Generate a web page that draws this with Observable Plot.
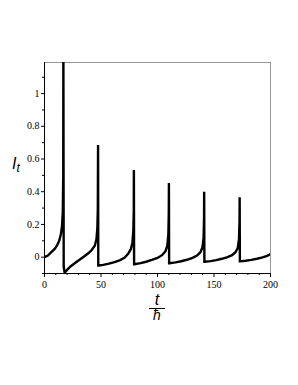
<!DOCTYPE html>
<html>
<head>
<meta charset="utf-8">
<script src="https://cdn.jsdelivr.net/npm/d3@7"></script>
<script src="https://cdn.jsdelivr.net/npm/@observablehq/plot@0.6"></script>
<style>
  html, body { margin: 0; padding: 0; background: #fff; }
  #chart { width: 298px; height: 385px; }
  #chart svg g[aria-label*="tick label"] text, #chart svg g[aria-label*="tick label"] { font-family: "Liberation Serif", "Times New Roman", serif !important; }
</style>
</head>
<body>
<div id="chart"></div>
<script>
// time values (t / ħ)
const tValues = [
  0, 3, 6, 9, 11, 13, 14.5, 15.5, 16.2, 16.6, 16.7,
  17.0, 17.8, 20, 23, 27, 31, 35, 39, 42, 44.5, 46, 46.8, 47.2, 47.4,
  47.6, 48, 52, 57, 62, 67, 71, 74, 76.5, 77.8, 78.6, 79.0, 79.1,
  79.3, 79.5, 85, 90, 95, 100, 104, 107, 108.7, 109.6, 110.0, 110.1,
  110.3, 110.5, 116, 121, 126, 131, 135, 138, 139.8, 140.8, 141.2, 141.3,
  141.5, 141.7, 147, 152, 157, 162, 166, 169, 171, 172.1, 172.6, 172.7,
  172.9, 173.1, 178, 183, 188, 193, 197, 200
];
// current values I_t
const iValues = [
  0, 0.01, 0.03, 0.05, 0.07, 0.10, 0.14, 0.19, 0.28, 0.5, 1.3,
  -0.06, -0.095, -0.078, -0.057, -0.036, -0.016, 0.004, 0.025, 0.045, 0.07, 0.11, 0.18, 0.3, 0.685,
  -0.051, -0.051, -0.047, -0.04, -0.03, -0.018, -0.002, 0.02, 0.05, 0.09, 0.16, 0.28, 0.533,
  -0.043, -0.043, -0.037, -0.028, -0.017, -0.005, 0.012, 0.035, 0.07, 0.14, 0.27, 0.454,
  -0.037, -0.037, -0.032, -0.025, -0.016, -0.004, 0.01, 0.03, 0.06, 0.12, 0.24, 0.40,
  -0.028, -0.028, -0.024, -0.018, -0.01, 0.0, 0.012, 0.03, 0.055, 0.11, 0.22, 0.366,
  -0.026, -0.026, -0.022, -0.017, -0.01, -0.002, 0.008, 0.018
];
const xTicks = [0, 50, 100, 150, 200];
const xMinorTicks = [10, 20, 30, 40, 60, 70, 80, 90, 110, 120, 130, 140, 160, 170, 180, 190];
const yTicks = [0, 0.2, 0.4, 0.6, 0.8, 1];
const yTickLabels = ["0", "0.2", "0.4", "0.6", "0.8", "1"];
const yMinorTicks = [-0.1, 0.1, 0.3, 0.5, 0.7, 0.9, 1.1];

const data = tValues.map((t, i) => ({t, I: iValues[i]}));

const serif = "'Liberation Serif', 'Times New Roman', serif";

const plot = Plot.plot({
  width: 298,
  height: 385,
  marginLeft: 44,
  marginRight: 28,
  marginTop: 62,
  marginBottom: 112,
  x: {domain: [0, 200]},
  y: {domain: [-0.1, 1.19]},
  style: {fontSize: "10px", color: "#000", background: "#fff"},
  marks: [
    Plot.frame({stroke: "#999", strokeWidth: 1}),
    Plot.axisX({ticks: xTicks, tickSize: 4, tickPadding: 3, label: null, tickFormat: d => String(d), fontFamily: serif}),
    Plot.axisX({ticks: xMinorTicks, tickSize: 2, text: null, label: null}),
    Plot.axisY({ticks: yTicks, tickSize: 3, tickPadding: 2, label: null, tickFormat: (d, i) => yTickLabels[i], fontFamily: serif}),
    Plot.axisY({ticks: yMinorTicks, tickSize: 2, text: null, label: null}),
    Plot.ruleX([0], {stroke: "#000", strokeWidth: 1}),
    Plot.ruleY([-0.1], {stroke: "#000", strokeWidth: 1}),
    Plot.line(data, {x: "t", y: "I", stroke: "#000", strokeWidth: 2.4, clip: true, strokeLinejoin: "miter", strokeMiterlimit: 2})
  ]
});

const svg = d3.select(plot);
svg.attr("font-family", serif).style("font-family", serif);
svg.selectAll("g[aria-label*='tick label'] text").attr("font-family", serif);

// y label I_t
const yl = svg.append("text")
  .attr("x", 16).attr("y", 169)
  .attr("font-family", "'Liberation Sans', Arial, sans-serif")
  .attr("font-style", "italic")
  .attr("font-size", 16)
  .attr("fill", "#000");
yl.append("tspan").text("I");
yl.append("tspan").attr("font-size", 12).attr("dy", 3).text("t");

// x label t / ħ
svg.append("text")
  .attr("x", 157).attr("y", 305)
  .attr("text-anchor", "middle")
  .attr("font-family", "'Liberation Sans', Arial, sans-serif")
  .attr("font-style", "italic")
  .attr("font-size", 16)
  .attr("fill", "#000")
  .text("t");
svg.append("line")
  .attr("x1", 149).attr("x2", 165)
  .attr("y1", 308.5).attr("y2", 308.5)
  .attr("stroke", "#000").attr("stroke-width", 1);
svg.append("text")
  .attr("x", 157).attr("y", 320)
  .attr("text-anchor", "middle")
  .attr("font-family", "'Liberation Sans', Arial, sans-serif")
  .attr("font-style", "italic")
  .attr("font-size", 14)
  .attr("fill", "#000")
  .text("ħ");

document.getElementById("chart").appendChild(plot);
</script>
</body>
</html>
